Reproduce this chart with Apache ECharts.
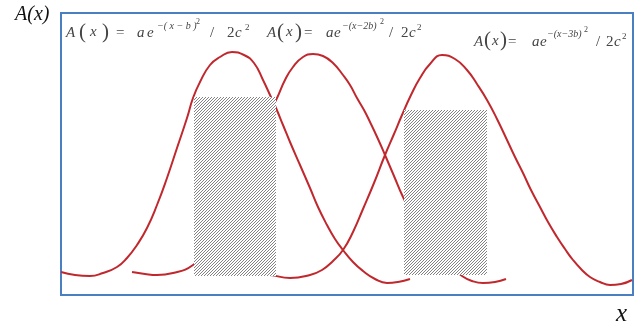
<!DOCTYPE html>
<html>
<head>
<meta charset="utf-8">
<script src="https://cdn.jsdelivr.net/npm/echarts@6/dist/echarts.min.js"></script>
<style>
html,body{margin:0;padding:0;background:#fff;}
#chart{width:640px;height:326px;}
</style>
</head>
<body>
<div id="chart"></div>
<script>
// Axis extents (arbitrary units)
var xMax = 572;
var yMax = 282;

// Three bell-shaped curves A(x) [x, A]
var curve1 = [[0,23],[14,20],[29,19],[42,22],[56,28],[66,37],[76,50],[86,67],[96,90],[106,117],[116,147],[126,177],[132,197],[139,213],[149,230],[159,238],[171,243],[183,240],[193,232],[202,215],[209,200],[215,187],[222,170],[229,153],[239,130],[249,107],[257,88],[266,70],[274,56],[282,45],[292,33],[302,24],[314,16],[326,12],[337,13],[349,16]];
var curve2 = [[71,23],[84,21],[96,20],[112,22],[132,30],[144,45],[159,75],[179,115],[197,155],[209,183],[216,197],[224,215],[232,228],[242,238],[252,241],[262,239],[272,232],[282,220],[289,210],[296,197],[303,185],[309,173],[317,156],[324,140],[333,119],[342,98],[354,75],[369,50],[384,33],[401,19],[411,14],[422,12],[434,13],[445,16]];
var curve3 = [[189,21],[209,20],[229,17],[249,20],[261,25],[272,34],[282,45],[292,63],[302,86],[313,112],[324,140],[333,161],[341,180],[350,200],[359,217],[369,231],[381,240],[394,236],[406,225],[416,211],[426,195],[436,176],[446,155],[454,138],[462,122],[470,105],[479,88],[487,73],[496,58],[504,46],[512,35],[520,26],[529,18],[539,13],[549,10],[560,11],[571,15]];

// Hatched boxes
var boxLeft   = [133, 343];
var boxRight  = [215, 426];
var boxBottom = [19, 20];
var boxTop    = [198, 185];

// Texts
var yLabel = 'A(x)';
var xLabel = 'x';
var shifts = ['b', '2b', '3b'];

var chart = echarts.init(document.getElementById('chart'));

// hatch pattern
var tile = document.createElement('canvas');
tile.width = 3; tile.height = 3;
var tctx = tile.getContext('2d');
tctx.fillStyle = '#ffffff';
tctx.fillRect(0,0,3,3);
tctx.fillStyle = '#838383';
tctx.fillRect(2,0,1,1);
tctx.fillRect(1,1,1,1);
tctx.fillRect(0,2,1,1);
var hatch = {image: tile, repeat: 'repeat'};

var boxData = boxLeft.map(function(l, i){ return [l, boxRight[i], boxBottom[i], boxTop[i]]; });

var SERIF = '"Liberation Serif","DejaVu Serif",serif';
var TXT = '#444';
function piece(t, x, y, size, italic){
  return {type:'text', x:x, y:y, style:{text:t, fill:TXT, font:(italic?'italic ':'')+size+'px '+SERIF, textVerticalAlign:'middle'}};
}
function formula(parts, yc){
  return parts.map(function(p){ return piece(p[0], p[1], yc + p[2], p[3], p[4]); });
}
var f1 = formula([
  ['A',66,0,15,true],['(',79,-1,21,false],['x',90,-1,15,true],[')',102,-1,21,false],['=',116,0,15,false],
  ['a',137,0,15,true],['e',147,0,15,true],['\u2212( x \u2212 '+shifts[0]+' )',157,-7,10,true],['2',196,-11,8,false],
  ['/',210,0,15,false],['2',227,0,15,false],['c',235,0,15,true],['2',245,-5,9,false]
], 33);
var f2 = formula([
  ['A',267,0,15,true],['(',277,-1,21,false],['x',286,-1,15,true],[')',295,-1,21,false],['=',304,0,15,false],
  ['a',326,0,15,true],['e',334,0,15,true],['\u2212(x\u2212'+shifts[1]+')',342,-7,10,true],['2',380,-11,8,false],
  ['/',389,0,15,false],['2',401,0,15,false],['c',409,0,15,true],['2',417,-5,9,false]
], 33);
var f3 = formula([
  ['A',474,0,15,true],['(',484,-2,21,false],['x',492,-1,15,true],[')',500,-2,21,false],['=',508,0,15,false],
  ['a',532,0,15,true],['e',540,0,15,true],['\u2212(x\u2212'+shifts[2]+')',547,-8,10,true],['2',584,-12,8,false],
  ['/',596,0,15,false],['2',606,0,15,false],['c',614,0,15,true],['2',622,-5,9,false]
], 42);

var redLine = {color:'#c0282e', width:2};

chart.setOption({
  animation:false,
  grid:{left:61, top:13, right:7, bottom:31, show:true, borderColor:'#4a7fc1', borderWidth:2, backgroundColor:'transparent'},
  xAxis:{type:'value', min:0, max:xMax, show:false},
  yAxis:{type:'value', min:0, max:yMax, show:false},
  series:[
    {type:'line', data:curve1, smooth:0.5, showSymbol:false, lineStyle:redLine, z:2},
    {type:'line', data:curve2, smooth:0.5, showSymbol:false, lineStyle:redLine, z:2},
    {type:'line', data:curve3, smooth:0.5, showSymbol:false, lineStyle:redLine, z:2},
    {type:'custom', z:5, data:boxData, encode:{x:[0,1], y:[2,3]},
      renderItem:function(params, api){
        var p0 = api.coord([api.value(0), api.value(3)]);
        var p1 = api.coord([api.value(1), api.value(2)]);
        return {type:'rect', shape:{x:p0[0], y:p0[1], width:p1[0]-p0[0], height:p1[1]-p0[1]}, style:{fill:hatch}};
      }
    }
  ],
  graphic:[
    {type:'text', left:15, top:5, style:{text:yLabel, fill:'#111', font:'italic 20px '+SERIF}},
    {type:'text', left:616, top:302, style:{text:xLabel, fill:'#111', font:'italic 25px '+SERIF}}
  ].concat(f1, f2, f3)
});
</script>
</body>
</html>
